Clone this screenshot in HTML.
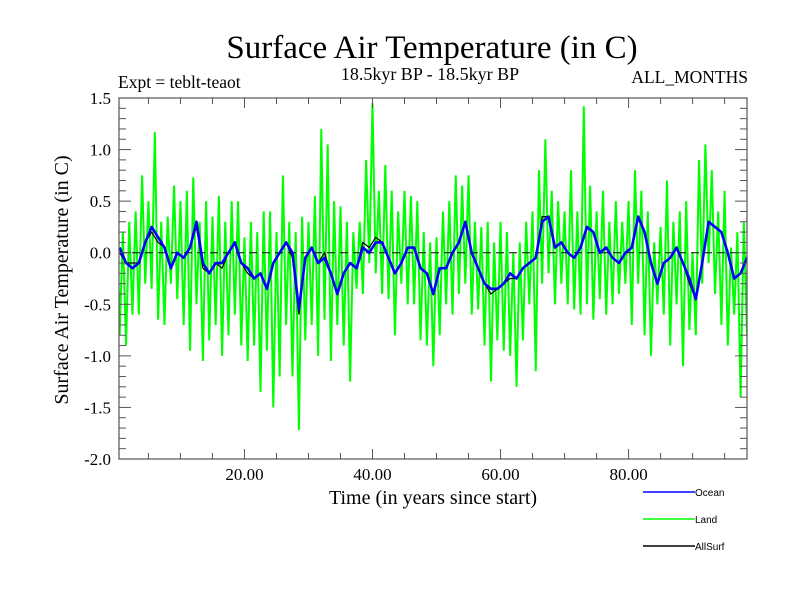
<!DOCTYPE html>
<html><head><meta charset="utf-8">
<style>
body{margin:0;background:#fff;}
svg{display:block;font-family:"Liberation Serif",serif;}
</style></head>
<body>
<svg id="chart" width="800" height="600" viewBox="0 0 800 600" xmlns="http://www.w3.org/2000/svg">
<rect width="800" height="600" fill="#fff"/>
<text x="432" y="58" font-size="33" text-anchor="middle">Surface Air Temperature (in C)</text>
<text x="430" y="80" font-size="18" text-anchor="middle">18.5kyr BP - 18.5kyr BP</text>
<text x="118" y="88" font-size="17.5">Expt = teblt-teaot</text>
<text x="748" y="83" font-size="17.5" text-anchor="end">ALL_MONTHS</text>
<text transform="translate(68,280) rotate(-90)" font-size="20" text-anchor="middle">Surface Air Temperature (in C)</text>
<text x="433" y="504" font-size="20" text-anchor="middle">Time (in years since start)</text>
<defs><clipPath id="pc"><rect x="119" y="98" width="628" height="361"/></clipPath></defs>
<g id="series" clip-path="url(#pc)"></g>
<g id="axes"></g>
<g font-family="Liberation Sans, sans-serif" font-size="10">
<line x1="643" y1="492" x2="695" y2="492" stroke="#0000ff" stroke-width="1.5"/>
<text x="695" y="496">Ocean</text>
<line x1="643" y1="519" x2="695" y2="519" stroke="#00ff00" stroke-width="1.5"/>
<text x="695" y="523">Land</text>
<line x1="643" y1="546" x2="695" y2="546" stroke="#000" stroke-width="1.5"/>
<text x="695" y="550">AllSurf</text>
</g>
</svg>
<script>
const landHigh=[0.6,0.2,0.3,0.4,0.75,0.5,1.17,0.3,0.35,0.65,0.5,0.6,0.73,0.3,0.5,0.35,0.55,0.3,0.5,0.5,0.15,0.3,0.2,0.4,0.4,
0.2,0.75,0.3,0.2,0.35,0.3,0.55,1.2,1.05,0.5,0.45,0.3,0.2,0.3,0.9,1.45,0.6,0.85,0.6,0.4,0.6,0.55,0.5,0.2,0.1,
0.15,0.4,0.5,0.75,0.65,0.75,0.3,0.25,0.3,0.1,0.3,0.2,0.0,0.1,0.3,0.4,0.8,1.1,0.6,0.5,0.4,0.8,0.4,1.42,0.65,
0.4,0.6,0.3,0.5,0.3,0.5,0.8,0.6,0.4,0.1,0.25,0.7,0.3,0.4,0.5,0.0,0.9,1.05,0.8,0.4,0.6,0.05,0.2,0.3,0.1];
const landLow=[-0.8,-0.9,-0.6,-0.6,-0.3,-0.35,-0.65,-0.7,-0.3,-0.45,-0.7,-0.95,-0.5,-1.05,-0.85,-0.7,-1.0,-0.8,-0.6,-0.9,-1.05,-0.9,-1.35,-0.95,-1.5,
-1.2,-0.7,-1.2,-1.72,-0.85,-0.7,-1.0,-0.65,-1.05,-0.7,-0.9,-1.25,-0.35,-0.4,-0.1,-0.2,-0.4,-0.45,-0.8,-0.3,-0.5,-0.5,-0.85,-0.9,-1.1,
-0.8,-0.5,-0.6,-0.4,-0.3,-0.6,-0.55,-0.9,-1.25,-0.85,-0.95,-1.0,-1.3,-0.85,-0.5,-1.15,-0.3,-0.2,-0.5,-0.3,-0.5,-0.55,-0.6,-0.5,-0.65,
-0.45,-0.6,-0.5,-0.4,-0.3,-0.7,-0.3,-0.8,-1.0,-0.5,-0.6,-0.9,-0.5,-1.1,-0.75,-0.8,-0.3,-0.1,-0.4,-0.7,-0.9,-0.6,-1.4,-0.8,-0.6];
const ocean=[0.05,-0.1,-0.15,-0.1,0.1,0.25,0.15,0.05,-0.15,0.0,-0.05,0.05,0.3,-0.1,-0.2,-0.1,-0.1,0.0,0.1,-0.1,-0.15,-0.25,-0.2,-0.35,-0.1,
0.0,0.1,0.0,-0.55,-0.05,0.05,-0.1,-0.05,-0.2,-0.4,-0.2,-0.1,-0.15,0.05,0.0,0.1,0.1,-0.05,-0.2,-0.1,0.05,0.05,-0.15,-0.2,-0.4,
-0.15,-0.15,0.0,0.1,0.3,0.0,-0.15,-0.3,-0.35,-0.35,-0.3,-0.2,-0.25,-0.15,-0.1,-0.05,0.3,0.35,0.05,0.1,0.0,-0.05,0.05,0.25,0.2,
0.0,0.05,-0.05,-0.1,0.0,0.05,0.35,0.2,-0.1,-0.3,-0.1,-0.05,0.05,-0.1,-0.25,-0.45,-0.1,0.3,0.25,0.2,0.0,-0.25,-0.2,-0.05,0.05];
const allSurf=[0.0,-0.1,-0.1,-0.1,0.1,0.2,0.1,0.05,-0.15,0.0,-0.05,0.05,0.25,-0.15,-0.2,-0.1,-0.15,0.0,0.1,-0.1,-0.2,-0.25,-0.2,-0.35,-0.1,
0.0,0.1,-0.05,-0.6,-0.05,0.05,-0.1,0.0,-0.2,-0.4,-0.2,-0.1,-0.15,0.1,0.05,0.15,0.1,-0.05,-0.2,-0.1,0.05,0.05,-0.15,-0.2,-0.4,
-0.15,-0.15,0.0,0.1,0.3,0.0,-0.15,-0.3,-0.4,-0.35,-0.3,-0.25,-0.25,-0.15,-0.1,-0.05,0.35,0.35,0.05,0.1,0.0,-0.05,0.05,0.25,0.2,
0.0,0.05,-0.05,-0.1,0.0,0.05,0.35,0.2,-0.1,-0.3,-0.1,-0.05,0.05,-0.1,-0.3,-0.45,-0.1,0.3,0.25,0.2,0.0,-0.25,-0.2,-0.05,0.05];
const yTicks=[1.5,1.0,0.5,0.0,-0.5,-1.0,-1.5,-2.0];
const yTickLabels=["1.5","1.0","0.5","0.0","-0.5","-1.0","-1.5","-2.0"];
const xTicks=[20,40,60,80];
const xTickLabels=["20.00","40.00","60.00","80.00"];

const X0=119,X1=747,Y0=98,Y1=459;
const T0=0.4,T1=98.5,V0=-2.0,V1=1.5;
function xs(t){return X0+(t-T0)/(T1-T0)*(X1-X0);}
function ys(v){return Y1-(v-V0)/(V1-V0)*(Y1-Y0);}
const NS="http://www.w3.org/2000/svg";
const series=document.getElementById('series');
const axes=document.getElementById('axes');
function mk(tag,attrs,parent){const e=document.createElementNS(NS,tag);for(const k in attrs)e.setAttribute(k,attrs[k]);parent.appendChild(e);return e;}

let lp=[];
landHigh.forEach((h,i)=>{lp.push(xs(i)+','+ys(h));lp.push(xs(i+0.5)+','+ys(landLow[i]));});
const land=mk('polyline',{points:lp.join(' '),fill:'none',stroke:'#00ff00','stroke-width':2},series);


const zl=mk('line',{x1:X0,x2:X1,y1:ys(0),y2:ys(0),stroke:'#000','stroke-width':1,'stroke-dasharray':'8,5'},series);


const ap=allSurf.map((v,i)=>xs(i+0.5)+','+ys(v)).join(' ');
const als=mk('polyline',{points:ap,fill:'none',stroke:'#000','stroke-width':1.2},series);


const op=ocean.map((v,i)=>xs(i+0.5)+','+ys(v)).join(' ');
const oc=mk('polyline',{points:op,fill:'none',stroke:'#0000ff','stroke-width':2.6,'stroke-linejoin':'round'},series);



const fr=mk('rect',{x:X0,y:Y0,width:X1-X0,height:Y1-Y0,fill:'none',stroke:'#555','stroke-width':1.2},axes);


for(let k=0;k<=35;k++){const v=V0+k*0.1;const y=ys(v);const major=(k%5===0);const L=major?12:7;
 mk('line',{x1:X0,x2:X0+L,y1:y,y2:y,stroke:'#555','stroke-width':1},axes);
 mk('line',{x1:X1,x2:X1-L,y1:y,y2:y,stroke:'#555','stroke-width':1},axes);}
yTicks.forEach((v,i)=>{const t=mk('text',{x:111,y:ys(v)+6,'font-size':17,'text-anchor':'end'},axes);t.textContent=yTickLabels[i];
 
 });
for(let t=5;t<T1;t+=5){const x=xs(t);const major=(t%20===0);const L=major?10:6;
 mk('line',{x1:x,x2:x,y1:Y1,y2:Y1-L,stroke:'#555','stroke-width':1},axes);
 mk('line',{x1:x,x2:x,y1:Y0,y2:Y0+L,stroke:'#555','stroke-width':1},axes);}
xTicks.forEach((v,i)=>{const t=mk('text',{x:xs(v),y:480,'font-size':17,'text-anchor':'middle'},axes);t.textContent=xTickLabels[i];
 
 });
</script>
</body></html>
